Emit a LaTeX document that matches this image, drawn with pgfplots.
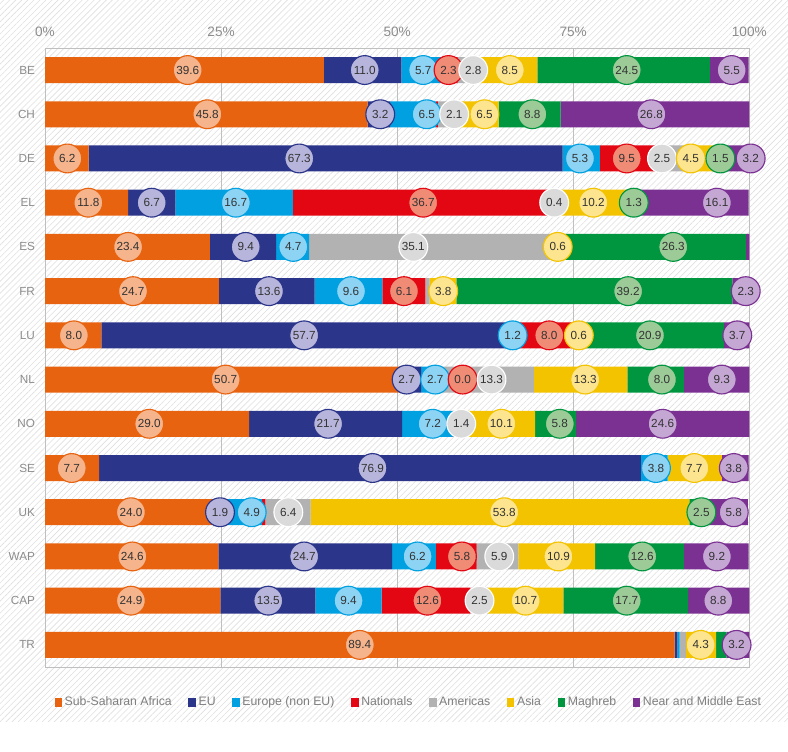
\documentclass[border=0pt]{standalone}
\usepackage{pgfplots}
\pgfplotsset{compat=1.18}
\usepackage{pgfplotstable}
\usepackage{fontspec}
\setmainfont{Liberation Sans}
\usetikzlibrary{patterns.meta}

\definecolor{ssa}{HTML}{E8630F}\definecolor{ssaL}{HTML}{F5B48C}
\definecolor{eu}{HTML}{2B3589}\definecolor{euL}{HTML}{B7B5DB}
\definecolor{eune}{HTML}{00A0E1}\definecolor{euneL}{HTML}{8DD3F4}
\definecolor{nat}{HTML}{E30613}\definecolor{natL}{HTML}{F08C76}
\definecolor{am}{HTML}{B2B2B2}\definecolor{amL}{HTML}{DADADA}
\definecolor{asia}{HTML}{F4C300}\definecolor{asiaL}{HTML}{FDE58F}
\definecolor{mag}{HTML}{00963F}\definecolor{magL}{HTML}{9CCB98}
\definecolor{nme}{HTML}{7B3192}\definecolor{nmeL}{HTML}{C5A7D4}
\definecolor{gridgray}{HTML}{BFBFBF}
\definecolor{tickgray}{HTML}{8C8C8C}
\definecolor{leggray}{HTML}{7F7F7F}
\definecolor{labtext}{HTML}{333333}

\pgfplotstableread{
y ssa eu eune nat am asia mag nme
13 39.6 11.0 5.7 2.3 2.8 8.5 24.5 5.5
12 45.8 3.2 6.5 0.3 2.1 6.5 8.8 26.8
11 6.2 67.3 5.3 9.5 2.5 4.5 1.5 3.2
10 11.8 6.7 16.7 36.7 0.4 10.2 1.3 16.1
9 23.4 9.4 4.7 0 35.1 0.6 26.3 0.5
8 24.7 13.6 9.6 6.1 0.6 3.8 39.2 2.3
7 8.0 57.7 1.2 8.0 0 0.6 20.9 3.7
6 50.7 2.7 2.7 0.0 13.3 13.3 8.0 9.3
5 29.0 21.7 7.2 0.2 1.4 10.1 5.8 24.6
4 7.7 76.9 3.8 0 0 7.7 0 3.8
3 24.0 1.9 4.9 0.5 6.4 53.8 2.5 5.8
2 24.6 24.7 6.2 5.8 5.9 10.9 12.6 9.2
1 24.9 13.5 9.4 12.6 2.5 10.7 17.7 8.8
0 89.4 0.4 0.3 0 0.9 4.3 1.5 3.2
}\bars

\pgfplotstableread{
y x v
13 20.26 39.6
12 23.05 45.8
11 3.17 6.2
10 6.15 11.8
9 11.8 23.4
8 12.5 24.7
7 4.1 8.0
6 25.65 50.7
5 14.8 29.0
4 3.8 7.7
3 12.2 24.0
2 12.4 24.6
1 12.2 24.9
0 44.7 89.4
}\ssalab
\pgfplotstableread{
y x v
13 45.4 11.0
12 47.6 3.2
11 36.1 67.3
10 15.15 6.7
9 28.5 9.4
8 31.8 13.6
7 36.8 57.7
6 51.35 2.7
5 40.2 21.7
4 46.5 76.9
3 24.85 1.9
2 36.8 24.7
1 31.7 13.5
}\eulab
\pgfplotstableread{
y x v
13 53.7 5.7
12 54.2 6.5
11 75.96 5.3
10 27.1 16.7
9 35.25 4.7
8 43.45 9.6
7 66.4 1.2
6 55.4 2.7
5 55.05 7.2
4 86.75 3.8
3 29.35 4.9
2 52.9 6.2
1 43.1 9.4
}\eunelab
\pgfplotstableread{
y x v
13 57.3 2.3
11 82.6 9.5
10 53.7 36.7
8 50.97 6.1
7 71.6 8.0
6 59.3 0.0
2 59.2 5.8
1 54.3 12.6
}\natlab
\pgfplotstableread{
y x v
13 60.8 2.8
12 58.1 2.1
11 87.6 2.5
10 72.3 0.4
9 52.3 35.1
6 63.4 13.3
5 59.1 1.4
3 34.55 6.4
2 64.5 5.9
1 61.7 2.5
}\amlab
\pgfplotstableread{
y x v
13 66.0 8.5
12 62.4 6.5
11 91.7 4.5
10 77.85 10.2
9 72.8 0.6
8 56.55 3.8
7 75.8 0.6
6 76.7 13.3
5 64.8 10.1
4 92.2 7.7
3 65.2 53.8
2 72.9 10.9
1 68.25 10.7
0 93.1 4.3
}\asialab
\pgfplotstableread{
y x v
13 82.6 24.5
12 69.2 8.8
11 95.9 1.5
10 83.6 1.3
9 89.2 26.3
8 82.8 39.2
7 85.9 20.9
6 87.6 8.0
5 73.1 5.8
3 93.2 2.5
2 84.8 12.6
1 82.6 17.7
}\maglab
\pgfplotstableread{
y x v
13 97.5 5.5
12 86.1 26.8
11 100.2 3.2
10 95.4 16.1
8 99.5 2.3
7 98.3 3.7
6 96.1 9.3
5 87.7 24.6
4 97.8 3.8
3 97.8 5.8
2 95.4 9.2
1 95.6 8.8
0 98.2 3.2
}\nmelab

\pgfplotsset{
  sq/.style={fill=#1, draw=none,
    legend image code/.code={\fill[#1] (0pt,-3.4pt) rectangle (5.6pt,3.4pt);}},
  lab/.style 2 args={only marks, mark=*, mark size=10.8pt,
    mark options={fill=#2, draw=#1, line width=0.85pt},
    nodes near coords, point meta=explicit symbolic,
    every node near coord/.append style={anchor=center, inner sep=0pt,
      font=\fontsize{8.8}{10}\selectfont, text=labtext}},
}

\begin{document}
\begin{tikzpicture}
\path[use as bounding box] (-33.75pt,-63.75pt) rectangle (557.25pt,500.25pt);
\fill[white] (-33.75pt,-63.75pt) rectangle (557.25pt,500.25pt);
\fill[pattern={Lines[angle=45,distance=3.2pt,line width=0.45pt]}, pattern color=black!12]
  (-33.75pt,-41.25pt) rectangle (557.25pt,500.25pt);
\begin{axis}[
  scale only axis, width=528.2pt, height=464.3pt,
  xmin=0, xmax=100, ymin=-0.5, ymax=13.5,
  xbar stacked, bar width=19.5pt,
  xtick={0,25,50,75,100}, xticklabels={0\%,25\%,50\%,75\%,100\%},
  xticklabel pos=upper,
  ytick={0,...,13},
  yticklabels={TR,CAP,WAP,UK,SE,NO,NL,LU,FR,ES,EL,DE,CH,BE},
  major tick length=0pt, tick style={draw=none},
  xmajorgrids, grid style={draw=gridgray, line width=0.6pt},
  axis line style={draw=gridgray, line width=0.6pt},
  x tick label style={font=\fontsize{10.2}{12}\selectfont, text=tickgray, yshift=5pt},
  y tick label style={font=\fontsize{8.8}{10}\selectfont, text=tickgray, xshift=-4pt},
  legend style={at={(0.517,-0.057)}, anchor=center, draw=none, fill=none,
    font=\fontsize{9.2}{11}\selectfont, text=leggray, legend columns=-1,
    /tikz/every even column/.append style={column sep=10.5pt}},
  legend cell align=left,
]
\addplot[sq=ssa] table[x=ssa,y=y] {\bars}; \addlegendentry{Sub-Saharan Africa}
\addplot[sq=eu] table[x=eu,y=y] {\bars}; \addlegendentry{EU}
\addplot[sq=eune] table[x=eune,y=y] {\bars}; \addlegendentry{Europe (non EU)}
\addplot[sq=nat] table[x=nat,y=y] {\bars}; \addlegendentry{Nationals}
\addplot[sq=am] table[x=am,y=y] {\bars}; \addlegendentry{Americas}
\addplot[sq=asia] table[x=asia,y=y] {\bars}; \addlegendentry{Asia}
\addplot[sq=mag] table[x=mag,y=y] {\bars}; \addlegendentry{Maghreb}
\addplot[sq=nme] table[x=nme,y=y] {\bars}; \addlegendentry{Near and Middle East}
\end{axis}
\begin{axis}[
  scale only axis, width=528.2pt, height=464.3pt,
  xmin=0, xmax=100, ymin=-0.5, ymax=13.5,
  hide axis, clip=false,
]
\addplot[lab={ssa}{ssaL}] table[x=x,y=y,meta=v] {\ssalab};
\addplot[lab={eu}{euL}] table[x=x,y=y,meta=v] {\eulab};
\addplot[lab={eune}{euneL}] table[x=x,y=y,meta=v] {\eunelab};
\addplot[lab={nat}{natL}] table[x=x,y=y,meta=v] {\natlab};
\addplot[lab={white}{amL}] table[x=x,y=y,meta=v] {\amlab};
\addplot[lab={asia}{asiaL}] table[x=x,y=y,meta=v] {\asialab};
\addplot[lab={mag}{magL}] table[x=x,y=y,meta=v] {\maglab};
\addplot[lab={nme}{nmeL}] table[x=x,y=y,meta=v] {\nmelab};
\end{axis}
\end{tikzpicture}
\end{document}
